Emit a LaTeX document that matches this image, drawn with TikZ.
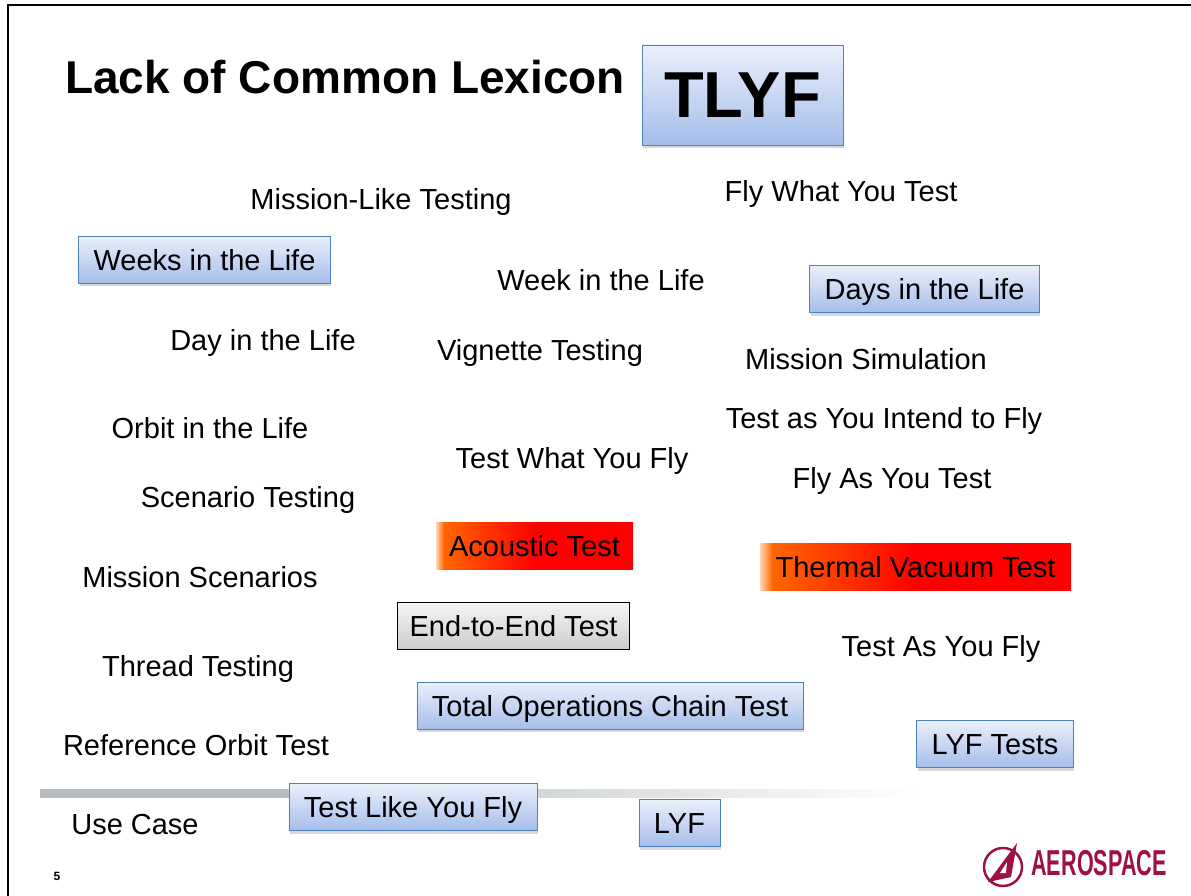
\documentclass[tikz,border=0pt]{standalone}
\usepackage{fontspec}
\setmainfont{Liberation Sans}
\usetikzlibrary{shadows}
\definecolor{boxline}{RGB}{79,129,189}
\definecolor{boxtop}{RGB}{234,240,251}
\definecolor{boxbottom}{RGB}{166,189,234}
\definecolor{heatorange}{RGB}{255,102,0}
\definecolor{heatpale}{RGB}{255,214,180}
\definecolor{rulegray}{RGB}{180,188,192}
\definecolor{aerored}{RGB}{158,16,66}
\pgfdeclarehorizontalshading{heat}{100bp}{color(0bp)=(heatpale); color(25bp)=(heatpale); color(27bp)=(heatorange); color(50bp)=(red); color(100bp)=(red)}
\pgfdeclarehorizontalshading{rulefade}{100bp}{color(0bp)=(rulegray); color(39bp)=(rulegray); color(75bp)=(white); color(100bp)=(white)}
\tikzset{term/.style = {anchor=base, inner sep=0pt}}
\tikzset{lexbox/.style = {draw=boxline, top color=boxtop, bottom color=boxbottom, inner xsep=15pt, inner ysep=10pt, text height=24pt, text depth=3pt, drop shadow={opacity=0.3, shadow xshift=1pt, shadow yshift=-3pt}}}
\tikzset{heatbox/.style = {shading=heat, inner ysep=10pt, text height=24pt, text depth=3pt, minimum height=47pt}}
\tikzset{greybox/.style = {draw=black, top color=gray!8, bottom color=gray!40, inner xsep=12pt, inner ysep=10pt, text height=24pt, text depth=3pt}}

\begin{document}
\begin{tikzpicture}[x=1pt, y=-1pt, font=\fontsize{29}{34}\selectfont]
  \useasboundingbox (0,0) rectangle (1191,896);
  \draw[line width=2.5pt] (8,896) -- (8,5) -- (1191,5);

  \node[term, anchor=base west, font=\fontsize{46}{50}\selectfont\bfseries] (title) at (65,94) {Lack of Common Lexicon};
  \node[lexbox, inner xsep=22pt, minimum height=100pt, text height=46pt, text depth=0pt, font=\fontsize{65}{70}\selectfont\bfseries] (tlyf) at (742.5,95) {TLYF};

  \node[term] (mlt) at (381,210) {Mission-Like Testing};
  \node[term] (fwyt) at (841,201) {Fly What You Test};
  \node[term] (witl) at (601,290) {Week in the Life};
  \node[term] (ditl) at (263,350) {Day in the Life};
  \node[term] (vign) at (540,360) {Vignette Testing};
  \node[term] (msim) at (866,369) {Mission Simulation};
  \node[term] (oitl) at (210,438) {Orbit in the Life};
  \node[term] (taiy) at (884,428) {Test as You Intend to Fly};
  \node[term] (twyf) at (572,468) {Test What You Fly};
  \node[term] (fayt) at (892,488) {Fly As You Test};
  \node[term] (scen) at (248,507) {Scenario Testing};
  \node[term] (msc) at (200,587) {Mission Scenarios};
  \node[term] (tayf) at (941,656) {Test As You Fly};
  \node[term] (thr) at (198,676) {Thread Testing};
  \node[term] (rot) at (196,755) {Reference Orbit Test};
  \node[term] (uc) at (135,834) {Use Case};

  \node[lexbox] (wkstl) at (204.5,259.5) {Weeks in the Life};
  \node[lexbox] (dystl) at (924.5,289) {Days in the Life};
  \node[heatbox, minimum width=197pt] (acou) at (534.5,545.5) {Acoustic Test};
  \node[heatbox, minimum width=311pt] (tvac) at (915.5,566.5) {Thermal Vacuum Test};
  \node[greybox] (e2e) at (513.5,626) {End-to-End Test};
  \node[lexbox] (toc) at (610,705.5) {Total Operations Chain Test};
  \node[lexbox] (lyft) at (995,744) {LYF Tests};

  \shade[shading=rulefade] (40,789) rectangle (920,797);
  \node[lexbox] (tlyfl) at (413,807) {Test Like You Fly};
  \node[lexbox] (lyf) at (679.5,823) {LYF};

  \node[font=\fontsize{12}{14}\selectfont\bfseries] (pg) at (57,876) {5};
  \draw[aerored, line width=2.5pt] (1003,867) circle (19);
  \fill[aerored] (988,882) -- (1017,843) -- (1011,877) -- cycle;
  \fill[white] (1000,873) -- (1007,862) -- (1006,873) -- cycle;
  \node[term, text=aerored, font=\fontsize{36}{40}\selectfont\bfseries] (logo) at (1099,875) {\scalebox{0.6}[1]{AEROSPACE}};
\end{tikzpicture}
\end{document}
